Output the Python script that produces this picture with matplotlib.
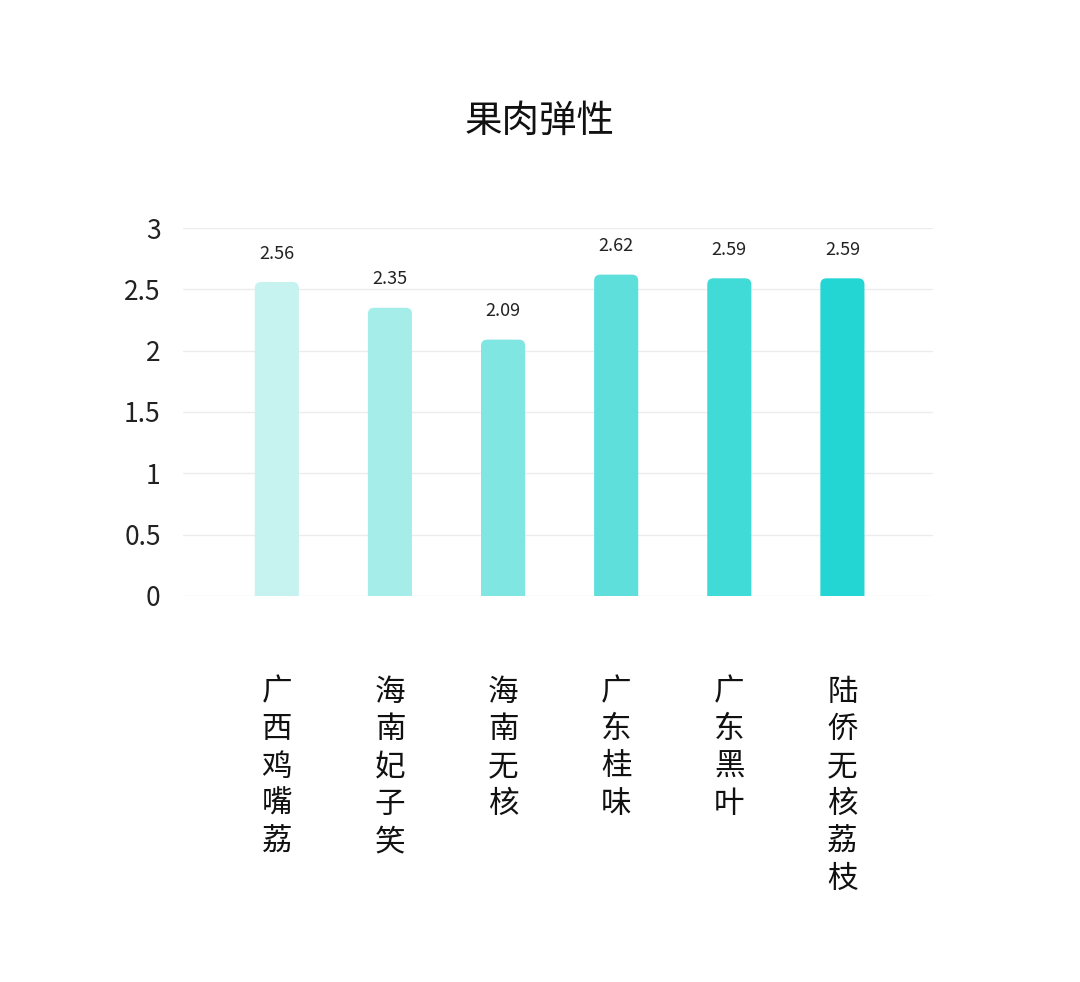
import matplotlib.pyplot as plt
from matplotlib.patches import FancyBboxPatch

plt.rcParams['font.family'] = ['Noto Sans CJK SC', 'DejaVu Sans']

varieties = ["广西鸡嘴荔", "海南妃子笑", "海南无核", "广东桂味", "广东黑叶", "陆侨无核荔枝"]
elasticity = [2.56, 2.35, 2.09, 2.62, 2.59, 2.59]
bar_colors = ["#c6f3f0", "#a5ede9", "#80e6e1", "#5edfdc", "#40dbd6", "#24d6d3"]
y_ticks = [0, 0.5, 1, 1.5, 2, 2.5, 3]
y_tick_labels = ["0", "0.5", "1", "1.5", "2", "2.5", "3"]

fig = plt.figure(figsize=(10.8, 9.82), dpi=100)
ax = fig.add_axes([0.1694, 0.3931, 0.6944, 0.3747])

x = list(range(len(varieties)))
bars = ax.bar(x, elasticity, width=0.39, color=bar_colors, zorder=2)

# swap the plain bars for ones with rounded tops
for b, c in zip(bars, bar_colors):
    b.set_visible(False)
    p = FancyBboxPatch((b.get_x(), -0.2), b.get_width(), b.get_height() + 0.2,
                       boxstyle="round,pad=0,rounding_size=0.055",
                       mutation_aspect=0.92, facecolor=c, edgecolor="none", zorder=2)
    ax.add_patch(p)

for xi, v in zip(x, elasticity):
    ax.annotate("{:.2f}".format(v), (xi, v), xytext=(0, 14), textcoords="offset points",
                ha="center", va="bottom", fontsize=13, color="#222222")

for xi, name in zip(x, varieties):
    ax.annotate("\n".join(name), (xi, 0), xytext=(0, -58), textcoords="offset points",
                ha="center", va="top", fontsize=22, fontweight="light",
                linespacing=1.27, color="#111111", annotation_clip=False)

ax.set_xlim(-0.83, 5.8)
ax.set_ylim(0, 3)
ax.set_yticks(y_ticks)
ax.set_yticklabels(y_tick_labels, fontsize=19, color="#222222")
ax.set_xticks([])
ax.tick_params(axis="y", length=0, pad=16)
ax.yaxis.grid(True, color="#ececec", linewidth=1, zorder=0)
ax.set_axisbelow(True)
for s in ax.spines.values():
    s.set_visible(False)

fig.text(0.5, 0.876, "果肉弹性", ha="center", va="center", fontsize=27, color="#111111")

plt.savefig("out.png", dpi=100)
plt.close()
